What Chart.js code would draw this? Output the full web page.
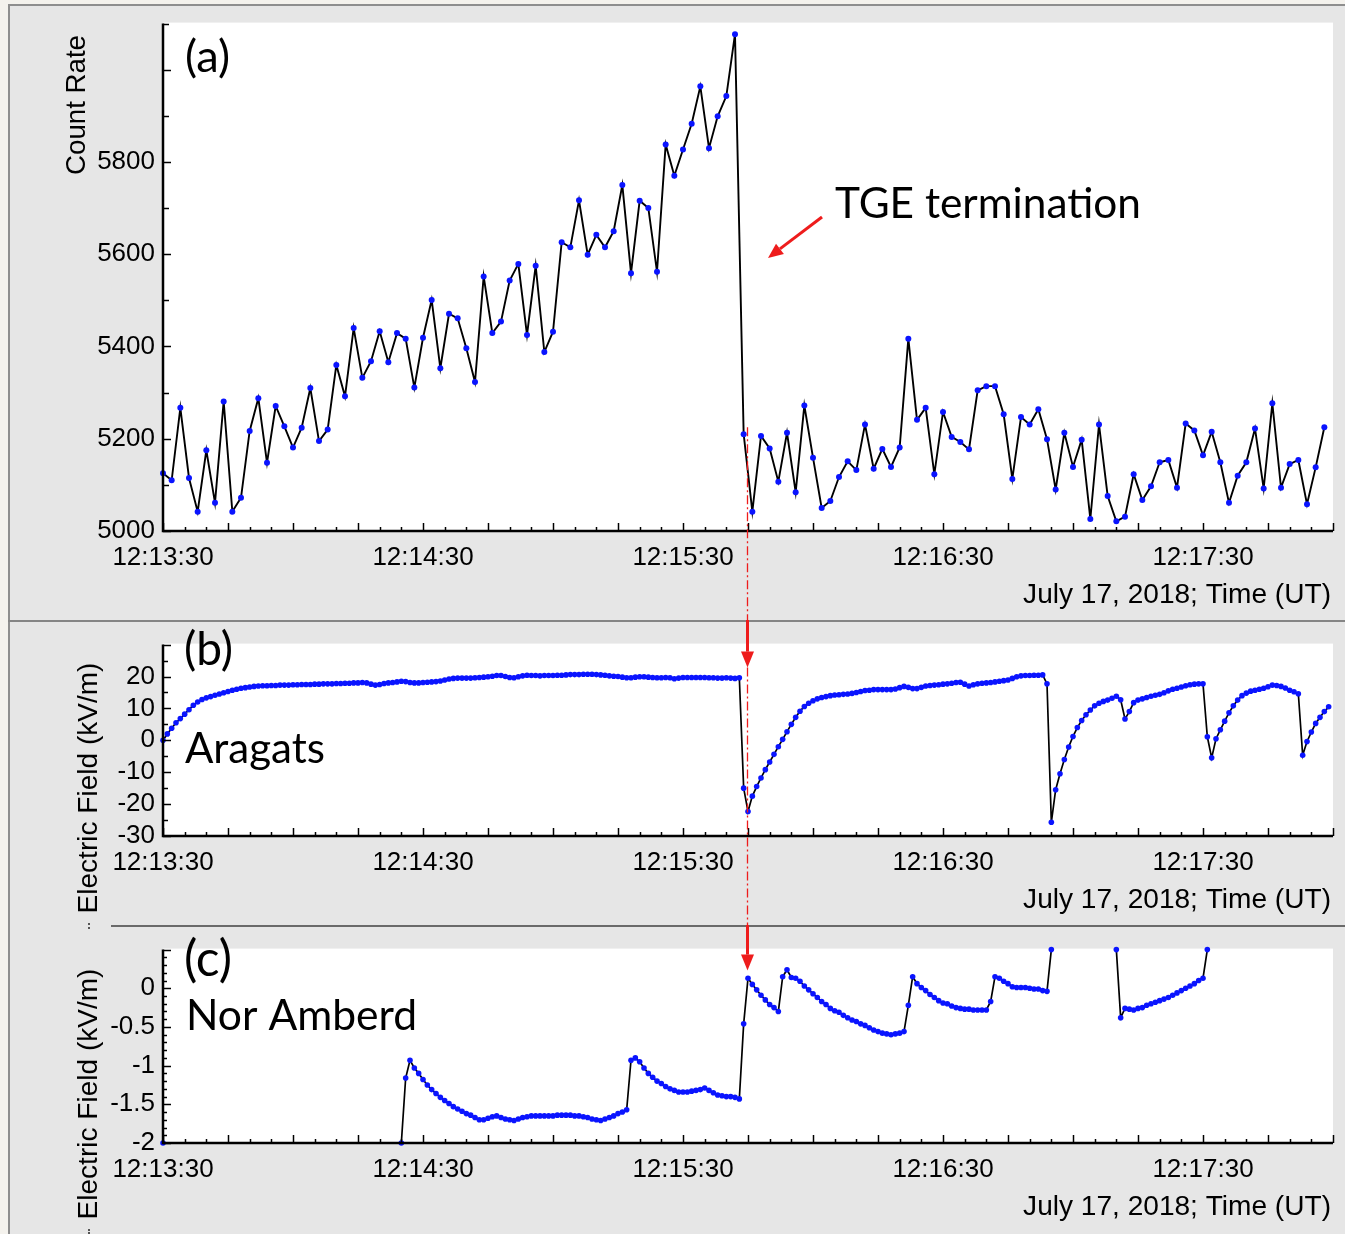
<!DOCTYPE html>
<html><head><meta charset="utf-8">
<script src="https://cdn.jsdelivr.net/npm/chart.js@4.4.1/dist/chart.umd.min.js"></script>
<style>
html,body{margin:0;padding:0;background:#f4f2ed;}
#wrap{position:relative;width:1345px;height:1234px;overflow:hidden;background:#f4f2ed;}
#frame{position:absolute;left:8px;top:4px;width:1337px;height:1230px;background:#e6e6e6;border-left:2px solid #8e8e8e;border-top:2px solid #8e8e8e;box-sizing:border-box;}
.sep{position:absolute;height:2px;}
canvas{position:absolute;left:0;}
</style></head><body>
<div id="wrap">
<div id="frame"></div>
<div class="sep" style="left:8px;top:620px;width:1337px;background:#858585"></div>
<div class="sep" style="left:111px;top:925px;width:1234px;background:#6a6a6a"></div>
<canvas id="ca" width="1345" height="621" style="top:0;width:1345px;height:621px"></canvas>
<canvas id="cb" width="1345" height="305" style="top:621px;width:1345px;height:305px"></canvas>
<canvas id="cc" width="1345" height="308" style="top:926px;width:1345px;height:308px"></canvas>
<canvas id="ov" width="1345" height="1234" style="top:0;width:1345px;height:1234px;pointer-events:none"></canvas>
</div>
<script>
// ---------------- DATA ----------------
const startTime = '12:13:30';                 // time origin of the x axis
const xRangeSec = [0, 270];                    // 12:13:30 .. 12:18:00
const xLabelSec = [0, 60, 120, 180, 240];      // labelled times (seconds after start)
const dateLabel = 'July 17, 2018; Time (UT)';

// (a) count rate, one sample every 2 s
const countRateStepSec = 2;
const countRate = [
 5125,5110,5267,5115,5042,5175,5061,5281,5042,5072,
 5217,5288,5148,5271,5227,5181,5224,5310,5195,5220,
 5360,5292,5440,5332,5368,5433,5366,5429,5417,5311,
 5419,5501,5353,5471,5461,5396,5323,5552,5429,5454,
 5543,5579,5425,5575,5388,5432,5626,5615,5717,5599,
 5642,5615,5650,5750,5559,5716,5700,5562,5838,5770,
 5827,5883,5964,5830,5899,5943,6077,5210,5042,5206,
 5179,5107,5213,5084,5272,5159,5050,5065,5117,5151,
 5132,5231,5135,5178,5139,5181,5417,5241,5267,5123,
 5258,5204,5193,5177,5305,5314,5314,5253,5113,5247,
 5231,5264,5199,5090,5213,5139,5198,5026,5231,5076,
 5021,5031,5123,5067,5097,5149,5154,5094,5233,5218,
 5164,5215,5149,5061,5120,5149,5222,5092,5277,5094,
 5145,5154,5058,5138,5225
];
const countRateTicks = [5000, 5200, 5400, 5600, 5800];

// (b) Aragats electric field, kV/m, one sample per second
const fieldStepSec = 1;
const aragatsField = [
 0,2,3.8,5.5,6.8,8.2,9.6,11,12,12.8,
 13.3,13.7,14.1,14.5,14.9,15.3,15.7,16,16.3,16.5,
 16.7,16.9,17,17.1,17.1,17.2,17.2,17.3,17.3,17.3,
 17.4,17.4,17.5,17.5,17.5,17.6,17.6,17.7,17.7,17.7,
 17.8,17.8,17.9,17.9,18,18,18.1,18,17.6,17.3,
 17.5,17.8,18,18.1,18.3,18.5,18.4,18.1,18,18,
 18.1,18.2,18.3,18.4,18.6,18.9,19.2,19.4,19.5,19.5,
 19.5,19.5,19.6,19.7,19.8,19.9,20.1,20.3,20.3,20,
 19.7,19.6,19.9,20.2,20.4,20.3,20.3,20.2,20.3,20.3,
 20.3,20.4,20.4,20.5,20.6,20.6,20.6,20.7,20.7,20.7,
 20.6,20.5,20.4,20.2,20.1,20,19.8,19.6,19.6,19.8,
 19.9,19.9,19.8,19.7,19.6,19.6,19.7,19.6,19.3,19.5,
 19.7,19.7,19.7,19.7,19.7,19.7,19.6,19.6,19.5,19.5,
 19.6,19.5,19.4,19.6,-15,-22.3,-17.5,-14.5,-11.8,-9.2,
 -6.8,-4.4,-2,0.3,2.7,5,7.2,9.1,10.6,11.6,
 12.4,13,13.4,13.7,14,14.2,14.3,14.4,14.5,14.7,
 15,15.3,15.6,15.7,15.9,15.9,15.9,15.9,15.9,16.1,
 16.5,16.9,16.6,16.2,16.2,16.6,17,17.2,17.3,17.4,
 17.6,17.7,17.9,18.1,18.2,17.6,17,17.4,17.7,17.9,
 18,18.1,18.3,18.5,18.7,18.9,19.4,19.9,20.2,20.3,
 20.3,20.4,20.4,20.5,17.7,-25.7,-15.5,-10.5,-6,-2.1,
 1.2,4,6.2,8,9.5,10.8,11.6,12.2,12.6,13.2,
 13.8,12.7,6.7,9,11.8,12.6,13,13.4,13.8,14.1,
 14.4,14.9,15.5,16,16.3,16.7,17.1,17.4,17.6,17.7,
 17.7,1.1,-5.5,0.5,3.3,6,8.6,10.8,12.6,14,
 14.8,15.4,15.7,16,16.3,16.8,17.3,17.2,16.9,16.4,
 15.7,15.2,14.6,-4.7,-0.4,2.6,5.3,7.2,9,10.5
];
const aragatsTicks = [-30, -20, -10, 0, 10, 20];

// (c) Nor Amberd electric field, kV/m, one sample per second (null = off scale / no data)
const norAmberdField = [
 -2,null,null,null,null,null,null,null,null,null,
 null,null,null,null,null,null,null,null,null,null,
 null,null,null,null,null,null,null,null,null,null,
 null,null,null,null,null,null,null,null,null,null,
 null,null,null,null,null,null,null,null,null,null,
 null,null,null,null,null,-2,-1.16,-0.93,-1.03,-1.1,
 -1.18,-1.25,-1.31,-1.36,-1.41,-1.45,-1.49,-1.53,-1.56,-1.59,
 -1.62,-1.64,-1.67,-1.7,-1.7,-1.68,-1.66,-1.65,-1.67,-1.69,
 -1.7,-1.71,-1.69,-1.67,-1.66,-1.65,-1.65,-1.65,-1.65,-1.65,
 -1.65,-1.64,-1.64,-1.64,-1.64,-1.65,-1.65,-1.66,-1.67,-1.69,
 -1.7,-1.71,-1.69,-1.67,-1.65,-1.62,-1.6,-1.57,-0.93,-0.9,
 -0.95,-1.03,-1.1,-1.15,-1.2,-1.23,-1.27,-1.3,-1.32,-1.34,
 -1.34,-1.34,-1.33,-1.32,-1.31,-1.29,-1.32,-1.35,-1.38,-1.39,
 -1.4,-1.4,-1.41,-1.43,-0.46,0.13,0.05,-0.02,-0.09,-0.15,
 -0.21,-0.25,-0.3,0.15,0.24,0.14,0.13,0.09,0.03,-0.02,
 -0.07,-0.12,-0.17,-0.21,-0.26,-0.29,-0.31,-0.35,-0.38,-0.41,
 -0.43,-0.46,-0.48,-0.51,-0.54,-0.56,-0.58,-0.59,-0.6,-0.59,
 -0.58,-0.56,-0.22,0.15,0.06,0.01,-0.03,-0.08,-0.12,-0.16,
 -0.19,-0.2,-0.23,-0.25,-0.26,-0.27,-0.27,-0.28,-0.28,-0.28,
 -0.28,-0.17,0.15,0.13,0.09,0.06,0.02,0.01,0.01,0.01,
 0,-0.01,-0.01,-0.03,-0.04,0.5,null,null,null,null,
 null,null,null,null,null,null,null,null,null,null,
 0.5,-0.38,-0.26,-0.27,-0.28,-0.26,-0.25,-0.22,-0.2,-0.18,
 -0.16,-0.14,-0.12,-0.09,-0.06,-0.03,0,0.03,0.06,0.1,
 0.13,0.5,null,null,null,null,null,null,null,null,
 null,null,null,null,null,null,null,null,null,null,
 null,null,null,null,null,null,null,null,null,null
];
const norAmberdTicks = [-2, -1.5, -1, -0.5, 0];

const tgeEndSec = 134.8;   // moment of TGE termination (red marker)

// ---------------- HELPERS ----------------
const TICK_FONT = "'Liberation Sans', Arial, sans-serif";
const NOTE_FONT = "Lato, 'Open Sans', sans-serif";
Chart.defaults.font.family = TICK_FONT;

const [h0, m0, s0] = startTime.split(':').map(Number);
const t0 = h0 * 3600 + m0 * 60 + s0;
function fmtTime(sec) {
  const t = t0 + Math.round(sec);
  const p = n => String(n).padStart(2, '0');
  return Math.floor(t / 3600) + ':' + p(Math.floor(t / 60) % 60) + ':' + p(t % 60);
}
function fitFont(ctx, text, family, width) {
  ctx.font = '100px ' + family;
  return 100 * width / ctx.measureText(text).width;
}
function drawText(ctx, text, family, x, y, width, opts = {}) {
  const size = fitFont(ctx, text, family, width);
  ctx.save();
  ctx.font = size + 'px ' + family;
  ctx.fillStyle = opts.color || '#000';
  ctx.textAlign = opts.align || 'left';
  ctx.textBaseline = opts.baseline || 'alphabetic';
  ctx.translate(x, y);
  if (opts.rotate) ctx.rotate(opts.rotate);
  ctx.fillText(text, 0, 0);
  ctx.restore();
}
function arrow(ctx, x1, y1, x2, y2, w, headL, headW, color) {
  const ang = Math.atan2(y2 - y1, x2 - x1);
  const bx = x2 - headL * Math.cos(ang), by = y2 - headL * Math.sin(ang);
  ctx.save();
  ctx.strokeStyle = color; ctx.fillStyle = color; ctx.lineWidth = w;
  ctx.beginPath(); ctx.moveTo(x1, y1); ctx.lineTo(bx, by); ctx.stroke();
  ctx.beginPath();
  ctx.moveTo(x2, y2);
  ctx.lineTo(bx + headW / 2 * Math.sin(ang), by - headW / 2 * Math.cos(ang));
  ctx.lineTo(bx - headW / 2 * Math.sin(ang), by + headW / 2 * Math.cos(ang));
  ctx.closePath(); ctx.fill();
  ctx.restore();
}

function decoPlugin(o) {
  return {
    id: 'deco',
    beforeDraw(chart) {
      const { ctx, chartArea: a } = chart;
      ctx.save();
      ctx.fillStyle = '#ffffff';
      ctx.fillRect(a.left, a.top - 1, a.right - a.left, a.bottom - a.top + 1);
      ctx.restore();
    },
    afterDatasetsDraw(chart) {
      const { ctx, chartArea: a, scales: { x, y } } = chart;
      ctx.save();
      ctx.strokeStyle = '#000';
      ctx.lineWidth = 1.5;
      // x ticks: minor every 5 s, major every 15 s (pointing into the plot)
      for (let s = xRangeSec[0]; s <= xRangeSec[1]; s += 5) {
        const px = Math.round(x.getPixelForValue(s)) + 0.5;
        const len = s % 15 === 0 ? 8 : 4;
        ctx.beginPath(); ctx.moveTo(px, a.bottom); ctx.lineTo(px, a.bottom - len); ctx.stroke();
      }
      // y ticks
      const n = Math.round((o.yMax - o.yMin) / o.yMinor);
      for (let i = 0; i <= n; i++) {
        const v = o.yMin + i * o.yMinor;
        const py = Math.round(y.getPixelForValue(v)) + 0.5;
        const len = i % o.majorEvery === 0 ? 8 : o.minorLen;
        ctx.beginPath(); ctx.moveTo(a.left, py); ctx.lineTo(a.left + len, py); ctx.stroke();
      }
      // axis lines
      ctx.lineWidth = 2.5;
      ctx.beginPath();
      ctx.moveTo(a.left, a.top);
      ctx.lineTo(a.left, a.bottom);
      ctx.lineTo(a.right, a.bottom);
      ctx.stroke();
      ctx.restore();
    },
    afterDraw(chart) {
      const { ctx, chartArea: a } = chart;
      // y axis title
      drawText(ctx, o.yTitle, TICK_FONT, o.yTitleX, o.yTitleY, o.yTitleW,
        { align: 'center', baseline: 'middle', rotate: -Math.PI / 2 });
      // date / time title
      drawText(ctx, dateLabel, TICK_FONT, a.right - 2, a.bottom + 72, 308, { align: 'right' });
      // notes
      o.notes.forEach(nt => drawText(ctx, nt.text, NOTE_FONT, nt.x, nt.y, nt.w));
      if (o.extra) o.extra(ctx);
    }
  };
}

function makePanel(id, o) {
  const pts = o.values.map((v, i) => ({ x: i * o.step, y: v }));
  return new Chart(document.getElementById(id), {
    type: 'line',
    data: { datasets: [{
      data: pts, borderColor: '#000', borderWidth: o.lw, tension: 0, spanGaps: false, clip: false,
      pointRadius: o.r, pointBackgroundColor: '#0a14ff', pointBorderColor: '#0a14ff', pointBorderWidth: 0
    }] },
    options: {
      responsive: false, animation: false, devicePixelRatio: 1, events: [],
      layout: { padding: { top: o.padTop, right: 12, left: 0, bottom: 0 } },
      plugins: { legend: { display: false }, tooltip: { enabled: false } },
      scales: {
        x: {
          type: 'linear', min: xRangeSec[0], max: xRangeSec[1],
          grid: { display: false, drawTicks: false }, border: { display: false },
          afterBuildTicks: s => { s.ticks = xLabelSec.map(v => ({ value: v })); },
          afterFit: s => { s.height = o.xAxisH; },
          ticks: { autoSkip: false, maxRotation: 0, minRotation: 0, padding: 11, color: '#000',
                   font: { family: TICK_FONT, size: 26 }, callback: v => fmtTime(v) }
        },
        y: {
          type: 'linear', min: o.yMin, max: o.yMax,
          grid: { display: false, drawTicks: false }, border: { display: false },
          afterBuildTicks: s => { s.ticks = o.yTicks.map(v => ({ value: v })); },
          afterFit: s => { s.width = 163; },
          ticks: { autoSkip: false, padding: 8, color: '#000',
                   font: { family: TICK_FONT, size: 26 }, callback: v => String(v) }
        }
      }
    },
    plugins: [decoPlugin(o)]
  });
}

const chartA = makePanel('ca', {
  values: countRate, step: countRateStepSec, r: 3, lw: 1.9,
  yMin: 5000, yMax: 6100, yTicks: countRateTicks, yMinor: 100, majorEvery: 2, minorLen: 6,
  padTop: 21, xAxisH: 90,
  yTitle: 'Count Rate', yTitleX: 77, yTitleY: 105, yTitleW: 140,
  notes: [
    { text: '(a)', x: 185, y: 72, w: 45 },
    { text: 'TGE termination', x: 835, y: 218, w: 306 }
  ],
  extra: ctx => arrow(ctx, 822, 217, 768, 258, 3, 15, 13, '#ee1c1c')
});
const chartB = makePanel('cb', {
  values: aragatsField, step: fieldStepSec, r: 2.8, lw: 1.7,
  yMin: -30, yMax: 30, yTicks: aragatsTicks, yMinor: 5, majorEvery: 2, minorLen: 5,
  padTop: 17, xAxisH: 90,
  yTitle: 'Electric Field (kV/m)', yTitleX: 89, yTitleY: 788 - 621, yTitleW: 251,
  notes: [
    { text: '(b)', x: 184, y: 665 - 621, w: 49 },
    { text: 'Aragats', x: 185, y: 763 - 621, w: 140 }
  ]
});
const chartC = makePanel('cc', {
  values: norAmberdField, step: fieldStepSec, r: 2.8, lw: 1.7,
  yMin: -2, yMax: 0.5, yTicks: norAmberdTicks, yMinor: 0.1, majorEvery: 5, minorLen: 4,
  padTop: 18, xAxisH: 91,
  yTitle: 'Electric Field (kV/m)', yTitleX: 89, yTitleY: 1094 - 926, yTitleW: 251,
  notes: [
    { text: '(c)', x: 184, y: 976 - 926, w: 48 },
    { text: 'Nor Amberd', x: 186, y: 1030 - 926, w: 231 }
  ]
});

// ---------------- overlay: TGE termination marker across the panels ----------------
(function () {
  const ov = document.getElementById('ov').getContext('2d');
  const red = '#ee1c1c';
  const x = Math.round(chartA.scales.x.getPixelForValue(tgeEndSec)) + 0.5;
  const yStart = chartA.scales.y.getPixelForValue(5225);
  const bTop = 621, cTop = 926;
  const tipB = bTop + chartB.chartArea.top + 23;
  const tipC = cTop + chartC.chartArea.top + 21;
  ov.save();
  ov.strokeStyle = red; ov.lineWidth = 1.3;
  ov.setLineDash([9, 3, 2, 3]);
  ov.beginPath(); ov.moveTo(x, yStart); ov.lineTo(x, 620); ov.stroke();
  ov.beginPath(); ov.moveTo(x, tipB); ov.lineTo(x, 925); ov.stroke();
  ov.restore();
  arrow(ov, x, 620, x, tipB, 3, 16, 13, red);
  arrow(ov, x, 925, x, tipC, 3, 16, 13, red);
  // small clipped glyph fragments at the left edge
  ov.fillStyle = '#555';
  ov.fillRect(88, 923, 2, 2); ov.fillRect(88, 927, 2, 2);
  ov.fillRect(88, 1229, 2, 2); ov.fillRect(88, 1232, 2, 2);
})();
</script>
</body></html>
